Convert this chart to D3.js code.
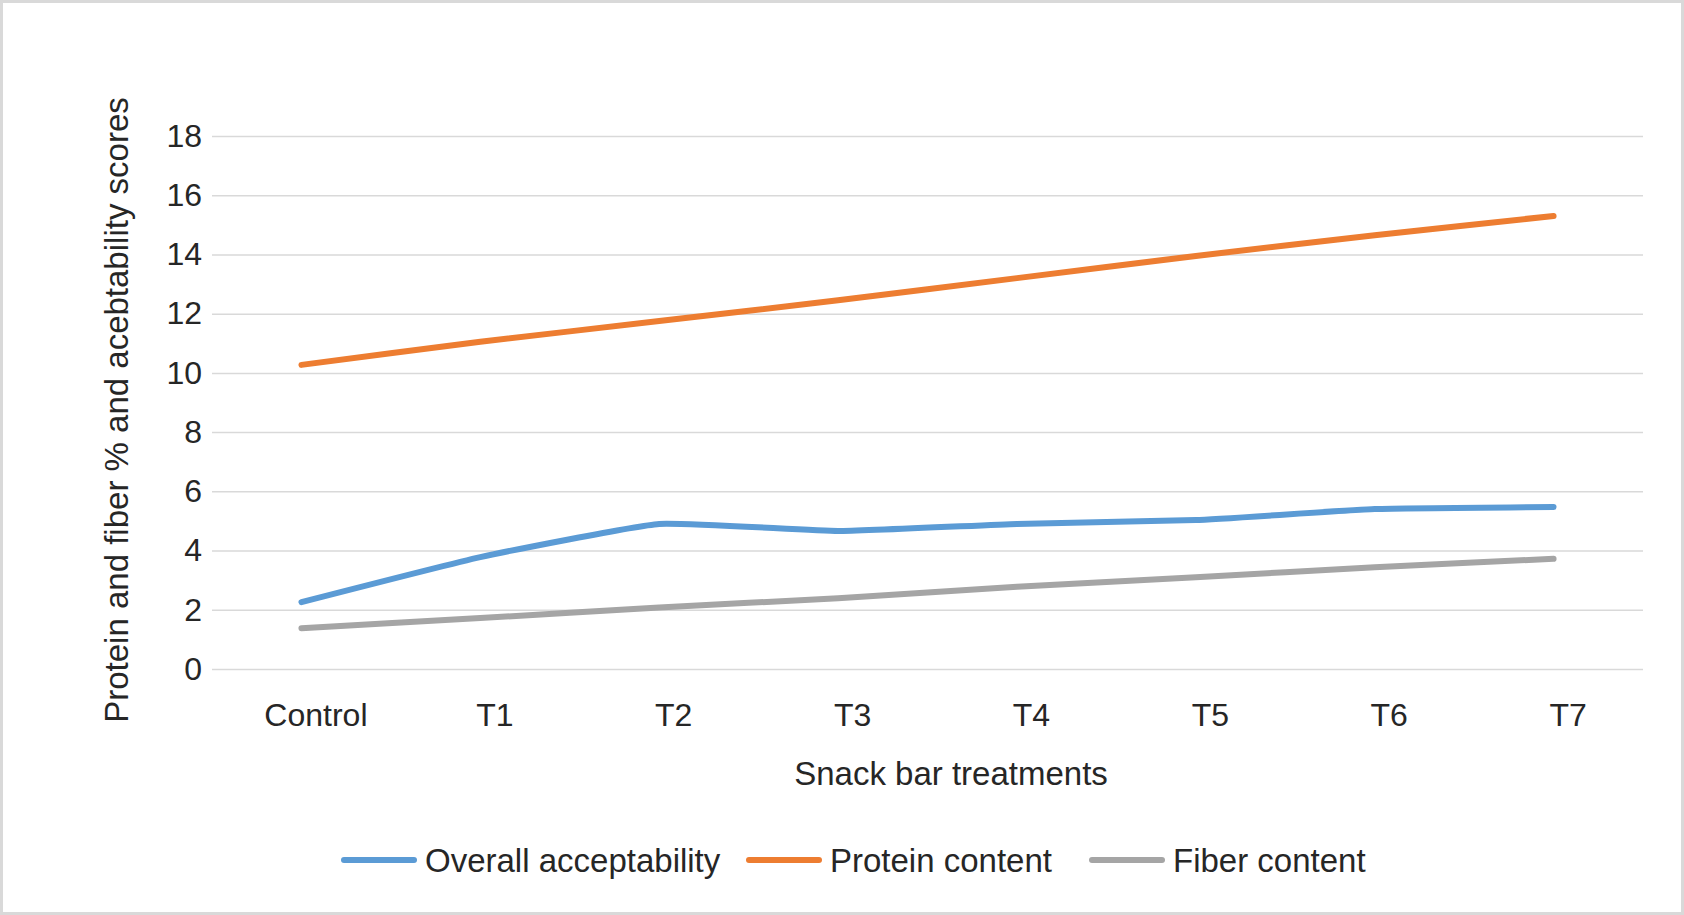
<!DOCTYPE html>
<html>
<head>
    <title>Snack bar treatments</title>
    <style>
        body { margin: 0; background: #fff; }
        text { font-family: "Liberation Sans", Arial, sans-serif; fill: #262626; }
        .tick text { font-size: 32px; }
        .axis-title { font-size: 33px; }
        .legend text { font-size: 33px; }
    </style>
</head>
<body>
    <svg id="chart" width="1684" height="915"></svg>

    <script src="https://d3js.org/d3.v7.min.js"></script>
    <script>
        // values
        const categories = ['Control', 'T1', 'T2', 'T3', 'T4', 'T5', 'T6', 'T7'];
        const acceptability = [2.26, 3.78, 4.9, 4.66, 4.9, 5.03, 5.4, 5.47];
        const protein = [10.27, 11.05, 11.75, 12.45, 13.2, 13.95, 14.65, 15.3];
        const fiber = [1.38, 1.72, 2.08, 2.39, 2.78, 3.1, 3.44, 3.72];
        const yTicks = [0, 2, 4, 6, 8, 10, 12, 14, 16, 18];

        const seriesNames = ['Overall acceptability', 'Protein content', 'Fiber content'];
        const seriesColors = ['#5b9bd5', '#ed7d31', '#a5a5a5'];
        const seriesValues = [acceptability, protein, fiber];

        const svg = d3.select('#chart');
        const W = +svg.attr('width'), H = +svg.attr('height');
        const margin = { top: 136, right: 41, bottom: 246, left: 212 };
        const width = W - margin.left - margin.right,
            height = H - margin.top - margin.bottom;

        // outer frame
        svg.append('rect')
            .attr('x', 1.5).attr('y', 1.5)
            .attr('width', W - 3).attr('height', H - 3)
            .attr('fill', '#fff')
            .attr('stroke', '#d9d9d9')
            .attr('stroke-width', 3);

        const x = d3.scalePoint().domain(categories).range([0, width]).padding(0.5);
        const y = d3.scaleLinear().domain([0, 18]).range([height, 0]);

        const g = svg.append('g')
            .attr('transform', `translate(${margin.left},${margin.top})`);

        // y axis with gridlines
        const yAxis = g.append('g')
            .call(d3.axisLeft(y).tickValues(yTicks).tickSize(-width).tickPadding(10));
        yAxis.select('.domain').remove();
        yAxis.selectAll('.tick line').attr('stroke', '#d9d9d9').attr('stroke-width', 1.5);
        yAxis.selectAll('.tick text').attr('fill', '#262626').attr('font-family', null).attr('font-size', null);

        // x axis labels
        const xAxis = g.append('g')
            .attr('transform', `translate(0,${height})`)
            .call(d3.axisBottom(x).tickSize(0).tickPadding(34));
        xAxis.select('.domain').remove();
        xAxis.selectAll('.tick text').attr('fill', '#262626').attr('font-family', null)
            .attr('font-size', null).attr('dx', 14);

        // lines (lightly smoothed, like the spreadsheet chart)
        const line = d3.line()
            .x((d, i) => x(categories[i]))
            .y(d => y(d))
            .curve(d3.curveCardinal.tension(0.6));

        seriesValues.forEach((vals, k) => {
            g.append('path')
                .datum(vals)
                .attr('fill', 'none')
                .attr('stroke', seriesColors[k])
                .attr('stroke-width', 6)
                .attr('stroke-linecap', 'round')
                .attr('stroke-linejoin', 'round')
                .attr('d', line);
        });

        // axis titles
        svg.append('text')
            .attr('class', 'axis-title')
            .attr('x', 951).attr('y', 785)
            .attr('text-anchor', 'middle')
            .text('Snack bar treatments');

        svg.append('text')
            .attr('class', 'axis-title')
            .attr('transform', 'translate(128,410) rotate(-90)')
            .attr('text-anchor', 'middle')
            .text('Protein and fiber % and acebtability scores');

        // legend
        const legendX = [344, 749, 1092];
        const legend = svg.append('g').attr('class', 'legend');
        seriesNames.forEach((name, k) => {
            const item = legend.append('g').attr('transform', `translate(${legendX[k]},860)`);
            item.append('line')
                .attr('x1', 0).attr('x2', 70)
                .attr('stroke', seriesColors[k])
                .attr('stroke-width', 6)
                .attr('stroke-linecap', 'round');
            item.append('text')
                .attr('x', 81).attr('y', 12)
                .text(name);
        });
    </script>
</body>
</html>
